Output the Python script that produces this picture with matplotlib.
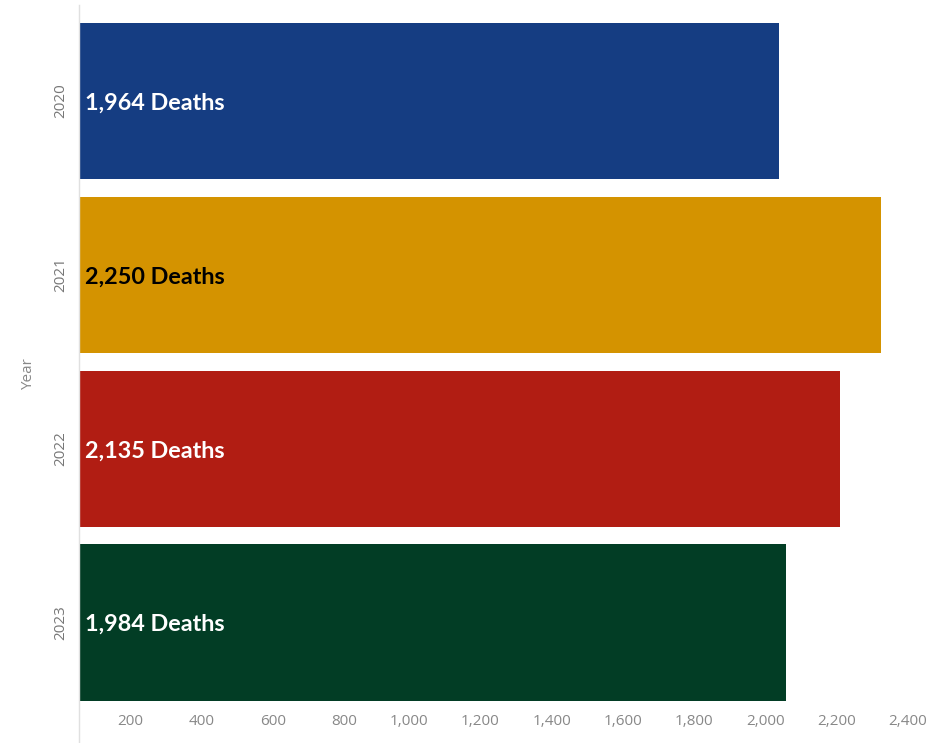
import matplotlib.pyplot as plt
from matplotlib.ticker import FuncFormatter
import matplotlib.transforms as mtransforms

years = ['2020', '2021', '2022', '2023']
deaths = [1964, 2250, 2135, 1984]
bar_colors = ['#153d82', '#d49300', '#b11d13', '#023d25']
label_colors = ['white', 'black', 'white', 'white']
xticks = [200, 400, 600, 800, 1000, 1200, 1400, 1600, 1800, 2000, 2200, 2400]

plt.rcParams['font.family'] = ['Lato', 'DejaVu Sans']

W, H = 940, 743
fig = plt.figure(figsize=(W / 100, H / 100), dpi=100)
ax = fig.add_axes([79 / W, 0, 861 / W, 738 / H])

pos = list(range(len(years)))
ax.barh(pos, deaths, height=0.9, color=bar_colors)
for p, d, c in zip(pos, deaths, label_colors):
    ax.text(16, p, f'{d:,} Deaths', color=c, fontsize=16.8, fontweight='bold',
            va='center_baseline', ha='left')

ax.set_xlim(0, 2416)
ax.set_ylim(3.692, -0.552)

ax.set_yticks(pos)
ax.set_yticklabels(years, rotation=90, va='center', color='#777777', fontsize=11,
                   family=['Open Sans', 'DejaVu Sans'])
ax.set_ylabel('Year', color='#888888', fontsize=11, labelpad=12,
              family=['Open Sans', 'DejaVu Sans'])

ax.set_xticks(xticks)
ax.xaxis.set_major_formatter(FuncFormatter(lambda v, _: f'{int(v):,}'))
ax.tick_params(axis='x', length=0, pad=-21, labelsize=11, labelcolor='#888888')
ax.tick_params(axis='y', length=0, pad=8)
shift = mtransforms.ScaledTranslation(-7 / 100, 0, fig.dpi_scale_trans)
for lbl in ax.get_xticklabels():
    lbl.set_horizontalalignment('right')
    lbl.set_family(['Open Sans', 'DejaVu Sans'])
    lbl.set_transform(lbl.get_transform() + shift)

for s in ['top', 'right', 'bottom']:
    ax.spines[s].set_visible(False)
ax.spines['left'].set_color('#e0e0e0')
ax.spines['left'].set_linewidth(1)

fig.savefig('out.png', dpi=100)
